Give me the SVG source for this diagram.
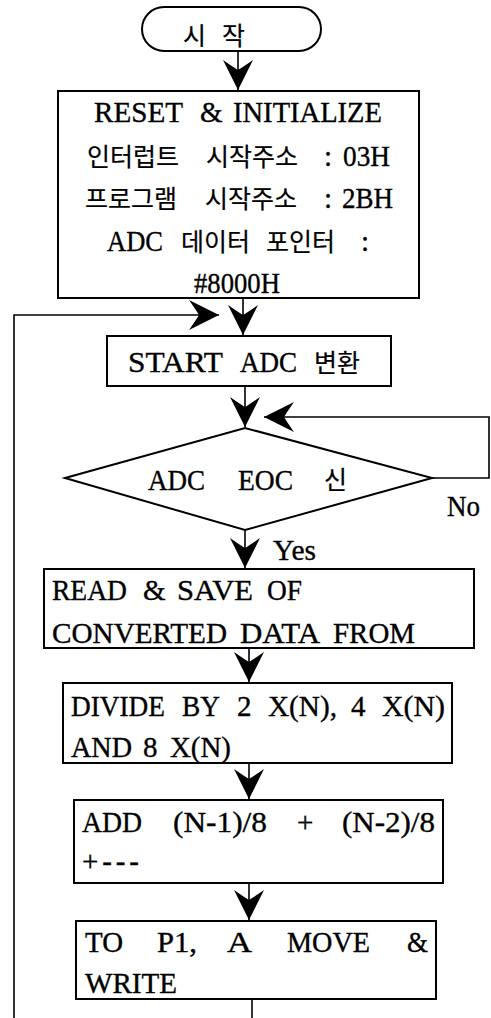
<svg xmlns="http://www.w3.org/2000/svg" width="491" height="1018" viewBox="0 0 491 1018">
  <style>
    .box { fill: #fff; stroke: #000; stroke-width: 2; }
    .wire { fill: none; stroke: #000; stroke-width: 1.6; }
    text { font-family: "Liberation Serif", "Noto Sans CJK KR", serif; font-size: 29px; fill: #000; stroke: #000; stroke-width: 0.35; }
    .k { font-size: 25px; stroke-width: 0.2; }
  </style>
  <defs>
    <!-- solid barbed arrowhead -->
    <marker id="ah" markerUnits="userSpaceOnUse" markerWidth="34" markerHeight="34" viewBox="-32 -17 34 34" refX="0" refY="0" orient="auto">
      <path d="M0,0 L-30,-15 Q-23,-5 -20,0 Q-23,5 -30,15 Z" fill="#000"/>
    </marker>
  </defs>
  <rect width="491" height="1018" fill="#fff"/>

  <g id="connectors">
    <line class="wire" x1="238" y1="51" x2="238" y2="90" marker-end="url(#ah)"/>
    <line class="wire" x1="243" y1="298" x2="243" y2="335" marker-end="url(#ah)"/>
    <path class="wire" d="M14,1018 V315 H219" marker-end="url(#ah)"/>
    <line class="wire" x1="245" y1="386" x2="245" y2="427" marker-end="url(#ah)"/>
    <path class="wire" d="M432,478 H489 V417 H264" marker-end="url(#ah)"/>
    <line class="wire" x1="245" y1="530" x2="245" y2="568" marker-end="url(#ah)"/>
    <line class="wire" x1="249" y1="648" x2="249" y2="682" marker-end="url(#ah)"/>
    <line class="wire" x1="249" y1="763" x2="249" y2="799" marker-end="url(#ah)"/>
    <line class="wire" x1="249" y1="883" x2="249" y2="920" marker-end="url(#ah)"/>
    <line class="wire" x1="252" y1="999" x2="252" y2="1018"/>
  </g>

  <g id="start">
    <rect class="box" x="142" y="7" width="179" height="44" rx="22"/>
    <text class="k" x="183" y="45" font-size="24">시</text>
    <text class="k" x="222" y="45" font-size="24">작</text>
  </g>

  <g id="init">
    <rect class="box" x="58" y="91" width="361" height="207"/>
    <text x="94" y="122" textLength="89" lengthAdjust="spacingAndGlyphs">RESET</text>
    <text x="200" y="122">&amp;</text>
    <text x="233" y="122" textLength="149" lengthAdjust="spacingAndGlyphs">INITIALIZE</text>

    <text class="k" x="87" y="166">인터럽트</text>
    <text class="k" x="206" y="166">시작주소</text>
    <text x="324" y="166">:</text>
    <text x="343" y="166" textLength="47" lengthAdjust="spacingAndGlyphs">03H</text>

    <text class="k" x="85" y="208">프로그램</text>
    <text class="k" x="205" y="208">시작주소</text>
    <text x="324" y="208">:</text>
    <text x="342" y="208" textLength="51" lengthAdjust="spacingAndGlyphs">2BH</text>

    <text x="107" y="251" textLength="56" lengthAdjust="spacingAndGlyphs">ADC</text>
    <text class="k" x="181" y="251">데이터</text>
    <text class="k" x="266" y="251">포인터</text>
    <text x="361" y="251">:</text>

    <text x="194" y="293" textLength="86" lengthAdjust="spacingAndGlyphs">#8000H</text>
  </g>

  <g id="start-adc">
    <rect class="box" x="107" y="336" width="284" height="50"/>
    <text x="128" y="372" textLength="95" lengthAdjust="spacingAndGlyphs">START</text>
    <text x="240" y="372" textLength="57" lengthAdjust="spacingAndGlyphs">ADC</text>
    <text class="k" x="314" y="372">변환</text>
  </g>

  <g id="eoc">
    <polygon class="box" points="65,478 245,428 432,478 245,530"/>
    <text x="148" y="490" textLength="57" lengthAdjust="spacingAndGlyphs">ADC</text>
    <text x="238" y="490" textLength="55" lengthAdjust="spacingAndGlyphs">EOC</text>
    <text class="k" x="324" y="489">신</text>
    <text x="447" y="516" font-size="27" textLength="33" lengthAdjust="spacingAndGlyphs">No</text>
    <text x="273" y="560" font-size="27" textLength="43" lengthAdjust="spacingAndGlyphs">Yes</text>
  </g>

  <g id="read-save">
    <rect class="box" x="44" y="569" width="430" height="79"/>
    <text x="52" y="600" textLength="75" lengthAdjust="spacingAndGlyphs">READ</text>
    <text x="143" y="600">&amp;</text>
    <text x="177" y="600" textLength="76" lengthAdjust="spacingAndGlyphs">SAVE</text>
    <text x="267" y="600" textLength="35" lengthAdjust="spacingAndGlyphs">OF</text>
    <text x="52" y="643" textLength="175" lengthAdjust="spacingAndGlyphs">CONVERTED</text>
    <text x="240" y="643" textLength="80" lengthAdjust="spacingAndGlyphs">DATA</text>
    <text x="333" y="643" textLength="82" lengthAdjust="spacingAndGlyphs">FROM</text>
  </g>

  <g id="divide">
    <rect class="box" x="63" y="683" width="389" height="80"/>
    <text x="71" y="716" textLength="94" lengthAdjust="spacingAndGlyphs">DIVIDE</text>
    <text x="182" y="716" textLength="38" lengthAdjust="spacingAndGlyphs">BY</text>
    <text x="237" y="716">2</text>
    <text x="268" y="716" textLength="69" lengthAdjust="spacingAndGlyphs">X(N),</text>
    <text x="351" y="716">4</text>
    <text x="382" y="716" textLength="63" lengthAdjust="spacingAndGlyphs">X(N)</text>
    <text x="71" y="757" textLength="61" lengthAdjust="spacingAndGlyphs">AND</text>
    <text x="143" y="757">8</text>
    <text x="170" y="757" textLength="61" lengthAdjust="spacingAndGlyphs">X(N)</text>
  </g>

  <g id="add">
    <rect class="box" x="74" y="800" width="369" height="83"/>
    <text x="82" y="832" textLength="60" lengthAdjust="spacingAndGlyphs">ADD</text>
    <text x="173" y="832" textLength="94" lengthAdjust="spacingAndGlyphs">(N-1)/8</text>
    <text x="297" y="832" font-size="22">+</text>
    <text x="342" y="832" textLength="93" lengthAdjust="spacingAndGlyphs">(N-2)/8</text>
    <text x="82" y="871" font-size="20" stroke-width="0.2" textLength="57" lengthAdjust="spacing">+---</text>
  </g>

  <g id="write">
    <rect class="box" x="76" y="921" width="360" height="78"/>
    <text x="85" y="952" textLength="38" lengthAdjust="spacingAndGlyphs">TO</text>
    <text x="157" y="952" textLength="40" lengthAdjust="spacingAndGlyphs">P1,</text>
    <text x="227" y="952" textLength="25" lengthAdjust="spacingAndGlyphs">A</text>
    <text x="287" y="952" textLength="83" lengthAdjust="spacingAndGlyphs">MOVE</text>
    <text x="407" y="952" textLength="21" lengthAdjust="spacingAndGlyphs">&amp;</text>
    <text x="85" y="993" textLength="92" lengthAdjust="spacingAndGlyphs">WRITE</text>
  </g>
</svg>
